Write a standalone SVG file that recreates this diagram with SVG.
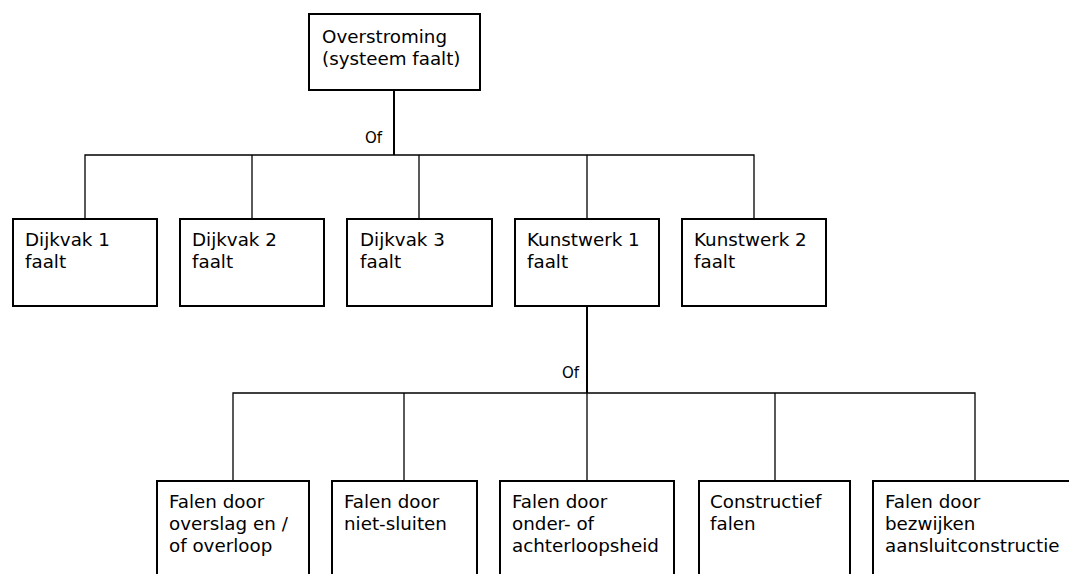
<svg xmlns="http://www.w3.org/2000/svg" width="1069" height="574" viewBox="0 0 1069 574">
<style>
.box{fill:#fff;stroke:#000;stroke-width:2}
.t{font-family:"DejaVu Sans","Verdana",sans-serif;font-size:18.3px;fill:#000}
.lbl{font-family:"DejaVu Sans","Verdana",sans-serif;font-size:15px;fill:#000}
.c{fill:none;stroke:#000;stroke-width:1.3}
.ct{fill:none;stroke:#000;stroke-width:2}
</style>
<rect width="1069" height="574" fill="#fff"/>
<g id="connectors">
<line class="ct" x1="394" y1="90" x2="394" y2="155"/>
<polyline class="c" points="85,219 85,155 754,155 754,219"/>
<line class="c" x1="252" y1="155" x2="252" y2="219"/>
<line class="c" x1="419" y1="155" x2="419" y2="219"/>
<line class="c" x1="587" y1="155" x2="587" y2="219"/>
<line class="ct" x1="587" y1="306" x2="587" y2="393"/>
<polyline class="c" points="233,481 233,393 975,393 975,481"/>
<line class="c" x1="404" y1="393" x2="404" y2="481"/>
<line class="c" x1="587" y1="393" x2="587" y2="481"/>
<line class="c" x1="775" y1="393" x2="775" y2="481"/>
<text class="lbl" x="365" y="143">Of</text>
<text class="lbl" x="562" y="378">Of</text>
</g>
<g id="n-top">
<rect class="box" x="309" y="14" width="171" height="76"/>
<text class="t" x="322" y="43">Overstroming</text>
<text class="t" x="322" y="65">(systeem faalt)</text>
</g>
<g id="n-dijkvak1">
<rect class="box" x="13" y="219" width="144" height="87"/>
<text class="t" x="25" y="246">Dijkvak 1</text>
<text class="t" x="25" y="268">faalt</text>
</g>
<g id="n-dijkvak2">
<rect class="box" x="180" y="219" width="144" height="87"/>
<text class="t" x="192" y="246">Dijkvak 2</text>
<text class="t" x="192" y="268">faalt</text>
</g>
<g id="n-dijkvak3">
<rect class="box" x="347" y="219" width="145" height="87"/>
<text class="t" x="360" y="246">Dijkvak 3</text>
<text class="t" x="360" y="268">faalt</text>
</g>
<g id="n-kunstwerk1">
<rect class="box" x="515" y="219" width="144" height="87"/>
<text class="t" x="527" y="246">Kunstwerk 1</text>
<text class="t" x="527" y="268">faalt</text>
</g>
<g id="n-kunstwerk2">
<rect class="box" x="682" y="219" width="144" height="87"/>
<text class="t" x="694" y="246">Kunstwerk 2</text>
<text class="t" x="694" y="268">faalt</text>
</g>
<g id="n-overslag">
<rect class="box" x="157" y="481" width="152" height="120"/>
<text class="t" x="169" y="508">Falen door</text>
<text class="t" x="169" y="530">overslag en /</text>
<text class="t" x="169" y="552">of overloop</text>
</g>
<g id="n-nietsluiten">
<rect class="box" x="332" y="481" width="145" height="120"/>
<text class="t" x="344" y="508">Falen door</text>
<text class="t" x="344" y="530">niet-sluiten</text>
</g>
<g id="n-onderloop">
<rect class="box" x="500" y="481" width="174" height="120"/>
<text class="t" x="512" y="508">Falen door</text>
<text class="t" x="512" y="530">onder- of</text>
<text class="t" x="512" y="552">achterloopsheid</text>
</g>
<g id="n-constructief">
<rect class="box" x="699" y="481" width="151" height="120"/>
<text class="t" x="710" y="508">Constructief</text>
<text class="t" x="710" y="530">falen</text>
</g>
<g id="n-aansluit">
<rect class="box" x="873" y="481" width="210" height="120"/>
<text class="t" x="885" y="508">Falen door</text>
<text class="t" x="885" y="530">bezwijken</text>
<text class="t" x="885" y="552">aansluitconstructie</text>
</g>
</svg>
